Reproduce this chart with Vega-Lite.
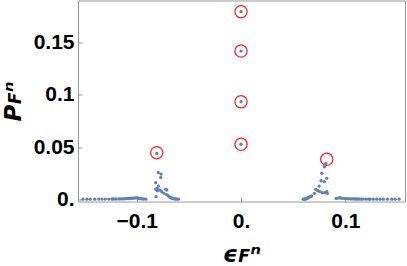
{
  "$schema": "https://vega.github.io/schema/vega-lite/v6.json",
  "width": 327,
  "height": 201,
  "autosize": "none",
  "padding": {"left": 78, "top": 0.5, "right": 2, "bottom": 64.5},
  "background": "white",
  "config": {
    "view": {"stroke": "#999999", "strokeWidth": 1},
    "font": "Liberation Sans",
    "axis": {"grid": false, "domain": false, "tickColor": "#999999", "tickSize": -4, "labelColor": "black", "labelFontSize": 21, "labelFontWeight": "bold", "titleColor": "black", "titleFontSize": 23, "titleFontWeight": "bold", "titleFontStyle": "italic", "titleFont": "DejaVu Sans"}
  },
  "datasets": {
    "pts": [
      {"x": -0.1515, "y": 0.0001}, {"x": -0.1477, "y": 0.0001}, {"x": -0.1445, "y": 0.0001}, {"x": -0.1403, "y": 0.0001},
      {"x": -0.1364, "y": 0.0002}, {"x": -0.1333, "y": 0.0002}, {"x": -0.1301, "y": 0.0002}, {"x": -0.1268, "y": 0.0002},
      {"x": -0.1237, "y": 0.0003}, {"x": -0.1221, "y": 0.0003}, {"x": -0.1198, "y": 0.0003}, {"x": -0.1173, "y": 0.0004},
      {"x": -0.1157, "y": 0.0004}, {"x": -0.1141, "y": 0.0005}, {"x": -0.1125, "y": 0.0005}, {"x": -0.1109, "y": 0.0006},
      {"x": -0.1093, "y": 0.0007}, {"x": -0.1077, "y": 0.0008}, {"x": -0.1061, "y": 0.0009}, {"x": -0.1045, "y": 0.001},
      {"x": -0.1029, "y": 0.0011}, {"x": -0.1013, "y": 0.0013}, {"x": -0.0997, "y": 0.0015}, {"x": -0.0981, "y": 0.0009},
      {"x": -0.0965, "y": 0.0006}, {"x": -0.0949, "y": 0.0004}, {"x": -0.0933, "y": 0.0003}, {"x": -0.0911, "y": 0.0002},
      {"x": -0.0808, "y": 0.044}, {"x": -0.0793, "y": 0.0255}, {"x": -0.0767, "y": 0.0242}, {"x": -0.077, "y": 0.021},
      {"x": -0.0818, "y": 0.0159}, {"x": -0.0793, "y": 0.0127}, {"x": -0.0818, "y": 0.0096}, {"x": -0.0805, "y": 0.0105},
      {"x": -0.0799, "y": 0.0082}, {"x": -0.0777, "y": 0.0089}, {"x": -0.076, "y": 0.0073}, {"x": -0.0722, "y": 0.0096},
      {"x": -0.0712, "y": 0.0089}, {"x": -0.0738, "y": 0.0057}, {"x": -0.0712, "y": 0.0044}, {"x": -0.0815, "y": 0.0025},
      {"x": -0.0697, "y": 0.0032}, {"x": -0.0685, "y": 0.0022}, {"x": -0.0672, "y": 0.0015}, {"x": -0.066, "y": 0.001},
      {"x": -0.0648, "y": 0.0006}, {"x": -0.0636, "y": 0.0004}, {"x": -0.0624, "y": 0.0003}, {"x": -0.0612, "y": 0.0002},
      {"x": -0.06, "y": 0.0002},
      {"x": 0, "y": 0.1797}, {"x": 0, "y": 0.142}, {"x": 0, "y": 0.0935}, {"x": 0, "y": 0.0527},
      {"x": 0.0597, "y": 0.0001}, {"x": 0.0606, "y": 0.0002}, {"x": 0.0614, "y": 0.0003}, {"x": 0.0622, "y": 0.0005},
      {"x": 0.063, "y": 0.0008}, {"x": 0.0638, "y": 0.0012}, {"x": 0.0645, "y": 0.0015}, {"x": 0.0654, "y": 0.002},
      {"x": 0.0662, "y": 0.0025}, {"x": 0.067, "y": 0.0028}, {"x": 0.0678, "y": 0.0032}, {"x": 0.0703, "y": 0.0057},
      {"x": 0.0716, "y": 0.0096}, {"x": 0.0735, "y": 0.0082}, {"x": 0.0748, "y": 0.0127}, {"x": 0.0757, "y": 0.0073},
      {"x": 0.0767, "y": 0.0178}, {"x": 0.0774, "y": 0.0249}, {"x": 0.078, "y": 0.0063}, {"x": 0.0799, "y": 0.0169},
      {"x": 0.0799, "y": 0.0312}, {"x": 0.0805, "y": 0.0063}, {"x": 0.0812, "y": 0.0345}, {"x": 0.0822, "y": 0.0201},
      {"x": 0.0822, "y": 0.0073}, {"x": 0.0828, "y": 0.0057},
      {"x": 0.0911, "y": 0.0008}, {"x": 0.0933, "y": 0.0012}, {"x": 0.0949, "y": 0.0015}, {"x": 0.0965, "y": 0.0011},
      {"x": 0.0981, "y": 0.0009}, {"x": 0.0997, "y": 0.0007}, {"x": 0.1013, "y": 0.0006}, {"x": 0.1029, "y": 0.0005},
      {"x": 0.1045, "y": 0.0005}, {"x": 0.1061, "y": 0.0004}, {"x": 0.1077, "y": 0.0004}, {"x": 0.1093, "y": 0.0003},
      {"x": 0.1109, "y": 0.0003}, {"x": 0.1125, "y": 0.0003}, {"x": 0.1141, "y": 0.0002}, {"x": 0.1157, "y": 0.0002},
      {"x": 0.1173, "y": 0.0002}, {"x": 0.1198, "y": 0.0002}, {"x": 0.1221, "y": 0.0002}, {"x": 0.1237, "y": 0.0001},
      {"x": 0.1268, "y": 0.0001}, {"x": 0.1301, "y": 0.0001}, {"x": 0.1333, "y": 0.0001}, {"x": 0.1364, "y": 0.0001},
      {"x": 0.1403, "y": 0.0001}, {"x": 0.1445, "y": 0.0001}, {"x": 0.1477, "y": 0.0001}, {"x": 0.1515, "y": 0.0001}
    ],
    "circ": [
      {"x": 0, "y": 0.1797}, {"x": 0, "y": 0.142}, {"x": 0, "y": 0.0935}, {"x": 0, "y": 0.0527},
      {"x": -0.0808, "y": 0.0446}, {"x": 0.0822, "y": 0.0383}
    ]
  },
  "encoding": {
    "x": {
      "field": "x", "type": "quantitative",
      "scale": {"domain": [-0.1563, 0.1572], "nice": false, "zero": false},
      "axis": {"values": [-0.1, 0, 0.1], "labelPadding": 13, "labelExpr": "datum.value == 0 ? '0.' : (datum.value < 0 ? '\u2212' + format(-datum.value, '.1~f') : format(datum.value, '.1~f'))", "title": "\u03f5\ua730\u207f", "titlePadding": 12}
    },
    "y": {
      "field": "y", "type": "quantitative",
      "scale": {"domain": [-0.0021, 0.1904], "nice": false, "zero": false},
      "axis": {"values": [0, 0.05, 0.1, 0.15], "labelPadding": 8, "labelExpr": "datum.value == 0 ? '0.' : format(datum.value, '.2~f')", "title": "P\ua730\u207f", "titlePadding": 8}
    }
  },
  "layer": [
    {"data": {"name": "pts"}, "mark": {"type": "point", "filled": true, "size": 11, "color": "#5E81B5", "opacity": 1}},
    {"data": {"name": "circ"}, "mark": {"type": "point", "filled": false, "size": 150, "color": "#FF2222", "strokeWidth": 1.3, "opacity": 1}}
  ]
}
